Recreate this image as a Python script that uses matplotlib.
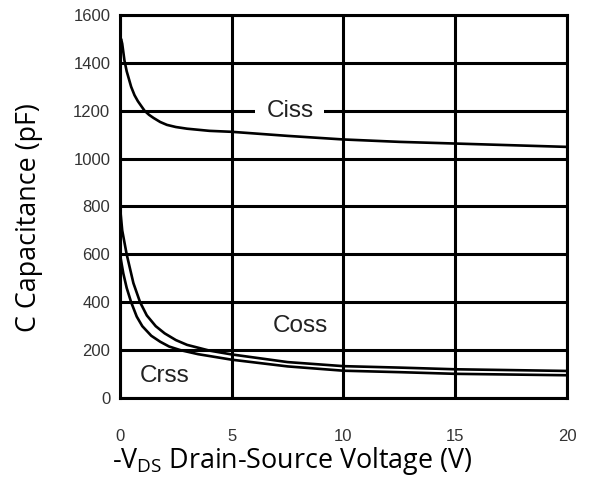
import numpy as np
import matplotlib
matplotlib.use("Agg")
import matplotlib.pyplot as plt

plt.close("all")

# Capacitance vs -VDS
vds_ciss = [0, 0.05, 0.1, 0.2, 0.3, 0.5, 0.65, 0.8, 1.1, 1.3, 1.5, 1.8, 2.1, 2.5, 3.0, 4.0, 5.0,
            7.5, 10, 12.5, 15, 20]
ciss = [1490, 1500, 1480, 1410, 1365, 1300, 1265, 1240, 1200, 1183, 1170, 1153, 1141, 1132, 1125,
        1116, 1112, 1095, 1080, 1070, 1063, 1049]

vds_coss = [0, 0.1, 0.3, 0.6, 0.9, 1.2, 1.6, 2.0, 2.5, 3.0, 4.0, 5.0, 7.5, 10, 12.5, 15, 20]
coss = [800, 700, 600, 480, 400, 345, 300, 270, 242, 222, 198, 182, 150, 133, 127, 120, 113]

vds_crss = [0, 0.15, 0.3, 0.5, 0.75, 1.0, 1.4, 1.8, 2.2, 2.7, 3.5, 5.0, 7.5, 10, 12.5, 15, 20]
crss = [600, 520, 460, 400, 340, 300, 260, 235, 215, 200, 183, 160, 132, 114, 108, 101, 95]

x_ticks = [0, 5, 10, 15, 20]
y_ticks = [0, 200, 400, 600, 800, 1000, 1200, 1400, 1600]

fig = plt.figure(figsize=(5.89, 4.79), dpi=100)
ax = fig.add_axes([0.2037, 0.1691, 0.7589, 0.7996])

for vv, cc in [(vds_ciss, ciss), (vds_coss, coss), (vds_crss, crss)]:
    ax.plot(vv, cc, color="black", lw=1.9, solid_capstyle="round",
            solid_joinstyle="round", zorder=3)

ax.set_xlim(0, 20)
ax.set_ylim(0, 1600)
ax.set_xticks(x_ticks)
ax.set_yticks(y_ticks)
ax.grid(True, color="black", lw=2.2)
ax.set_axisbelow(True)
for sp in ax.spines.values():
    sp.set_linewidth(2.2)
ax.tick_params(length=0, labelsize=12, labelcolor="#333333")
ax.tick_params(axis="x", pad=22)
ax.tick_params(axis="y", pad=7)
for lab in ax.get_xticklabels() + ax.get_yticklabels():
    lab.set_family("Liberation Sans")

# Curve labels
ax.text(7.6, 1200, "Ciss", fontsize=17.5, family="Liberation Sans", color="#222222",
        ha="center", va="center", zorder=2,
        bbox=dict(boxstyle="square,pad=0.45", facecolor="white", edgecolor="none"))
ax.text(8.05, 300, "Coss", fontsize=17.5, family="Liberation Sans", color="#222222",
        ha="center", va="center", zorder=4)
ax.text(2.0, 90, "Crss", fontsize=17.5, family="Liberation Sans", color="#222222",
        ha="center", va="center", zorder=4)

ax.set_xlabel("-V$_{\\mathregular{DS}}$ Drain-Source Voltage (V)", fontsize=19.4,
              family="Open Sans", va="top")
ax.xaxis.set_label_coords(0.385, -0.122)
ax.set_ylabel("C Capacitance (pF)", fontsize=19.4, family="Open Sans")
ax.yaxis.set_label_coords(-0.172, 0.47)

fig.savefig("out.png", dpi=100)
